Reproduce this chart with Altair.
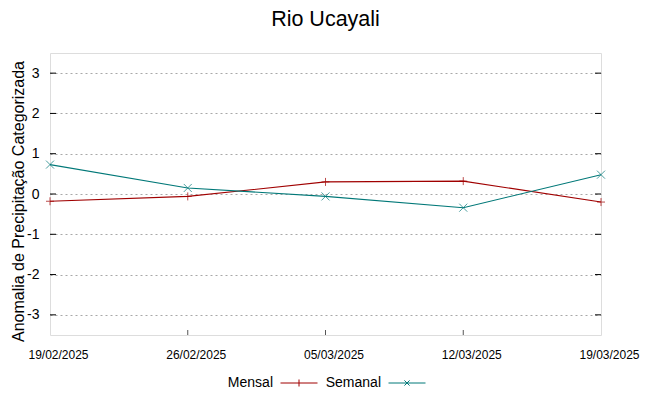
import altair as alt
import pandas as pd

dates = ["19/02/2025", "26/02/2025", "05/03/2025", "12/03/2025", "19/03/2025"]
mensal = [-0.18, -0.06, 0.30, 0.32, -0.20]
semanal = [0.73, 0.15, -0.06, -0.34, 0.48]
series = ["Mensal", "Semanal"]
colors = ["#a00000", "#007878"]
y_ticks = [-3, -2, -1, 0, 1, 2, 3]

rows = []
for i, (d, m, s) in enumerate(zip(dates, mensal, semanal)):
    rows.append({"idx": i, "data": d, "serie": "Mensal", "valor": m})
    rows.append({"idx": i, "data": d, "serie": "Semanal", "valor": s})
df = pd.DataFrame(rows)

FONT = "Liberation Sans"
PLUS = "M-1,0H1M0,-1V1"
XMARK = "M-1,-1L1,1M-1,1L1,-1"
LEG_PLUS = "M-1,0H1M0,-0.19V0.19"
LEG_X = "M-1,0H1M-0.14,-0.14L0.14,0.14M-0.14,0.14L0.14,-0.14"

label_expr = "[" + ",".join("'%s'" % d for d in dates) + "][datum.value]"
x_scale = alt.Scale(domain=[0, len(dates) - 1], nice=False, zero=False)

xenc = alt.X("idx:Q", scale=x_scale,
             axis=alt.Axis(title=None, values=list(range(len(dates))), labelExpr=label_expr,
                           labelAngle=0, labelFontSize=12, labelFont=FONT,
                           labelColor="#000", ticks=False, domain=False, grid=False,
                           labelPadding=14, labelBaseline="top", labelFlush=False,
                           labelOverlap=False, labelOffset=8))
yenc = alt.Y("valor:Q", scale=alt.Scale(domain=[-3.5, 3.5], nice=False, zero=False),
             axis=alt.Axis(title="Anomalia de Precipitação Categorizada", values=y_ticks,
                           labelExpr="'' + datum.value",
                           labelFontSize=14, labelFont=FONT, labelColor="#000",
                           titleFontSize=16, titleFont=FONT, titleFontWeight="normal",
                           titleColor="#000", titlePadding=0, titleY=148,
                           ticks=False, domain=False, labelPadding=11,
                           grid=True, gridDash=[2, 3], gridColor="#a8a8a8", gridWidth=1))
color_scale = alt.Scale(domain=series, range=colors)

base = alt.Chart(df)

lines = base.mark_line(strokeWidth=1.1).encode(
    x=xenc, y=yenc,
    color=alt.Color("serie:N", scale=color_scale, legend=None),
    detail="serie:N",
)

points = base.mark_point(filled=False, size=64, strokeWidth=1).encode(
    x="idx:Q",
    y="valor:Q",
    color=alt.Color("serie:N", scale=color_scale, legend=None),
    shape=alt.condition(alt.datum.serie == "Mensal", alt.value(PLUS), alt.value(XMARK)),
)

legend = alt.Legend(title=None, orient="none", direction="horizontal",
                    legendX=230, legendY=311, labelFontSize=14, labelFont=FONT,
                    labelColor="#000", symbolSize=1369, symbolStrokeWidth=1,
                    symbolOpacity=1, labelAlign="right", labelOffset={"expr": "-45"},
                    columnPadding=5)

legend_layer = base.mark_point(filled=False, opacity=0).encode(
    x="idx:Q",
    y="valor:Q",
    color=alt.Color("serie:N", scale=color_scale, legend=legend),
    shape=alt.Shape("serie:N", scale=alt.Scale(domain=series, range=[LEG_PLUS, LEG_X]),
                    legend=legend),
)

tick_df = pd.DataFrame({"v": y_ticks})
left_ticks = alt.Chart(tick_df).mark_rule(color="#000", strokeWidth=1).encode(
    y="v:Q", x=alt.value(0), x2=alt.value(6))
right_ticks = alt.Chart(tick_df).mark_rule(color="#000", strokeWidth=1).encode(
    y="v:Q", x=alt.value(545), x2=alt.value(551))
xt_df = pd.DataFrame({"i": list(range(1, len(dates) - 1))})
bottom_ticks = alt.Chart(xt_df).mark_rule(color="#555", strokeWidth=1).encode(
    x="i:Q", y=alt.value(277), y2=alt.value(282))

chart = alt.layer(lines, points, legend_layer, left_ticks, right_ticks, bottom_ticks).properties(
    width=551, height=282,
    title=alt.Title("Rio Ucayali", fontSize=21.5, font=FONT, fontWeight="normal",
                    color="#000", anchor="middle", offset=23),
    autosize=alt.AutoSizeParams(type="none"),
    padding={"left": 42, "top": 45, "right": 40, "bottom": 53},
).resolve_legend(color="independent", shape="independent").configure_view(
    stroke="#4a4a4a", strokeWidth=1).configure(background="white")

chart.save("out.html", embed_options={"renderer": "svg", "actions": False})
